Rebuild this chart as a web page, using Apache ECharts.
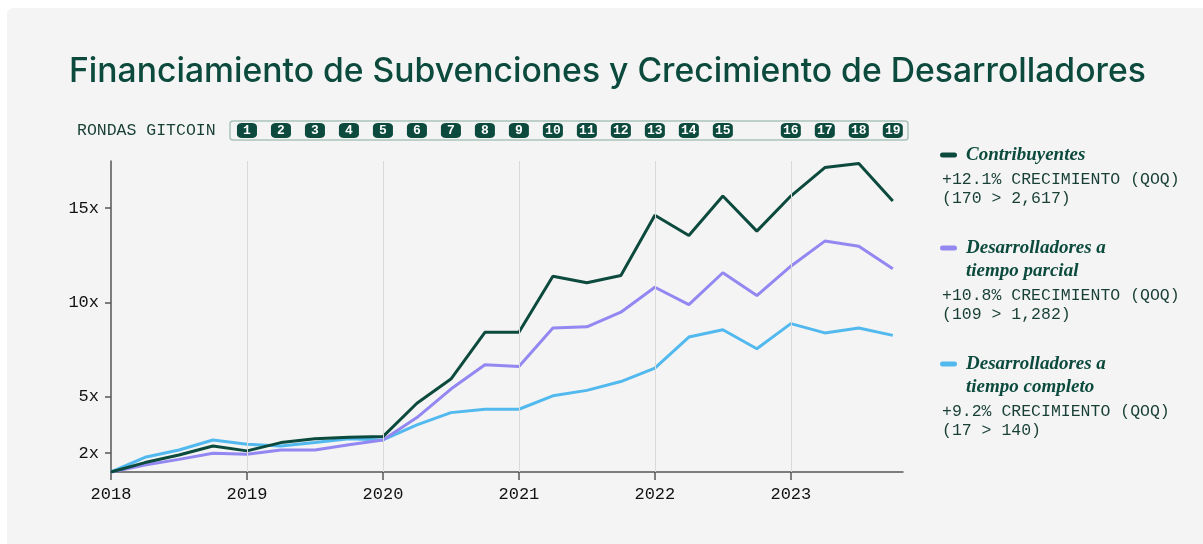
<!DOCTYPE html>
<html>
<head>
<meta charset="utf-8">
<script src="https://cdn.jsdelivr.net/npm/echarts@6/dist/echarts.min.js"></script>
<style>
  html, body { margin: 0; padding: 0; background: #fff; }
  #wrap { position: relative; width: 1203px; height: 544px; overflow: hidden; }
  #panel { position: absolute; left: 7px; top: 8px; width: 1220px; height: 560px; background: #f4f4f4; border-radius: 6px; }
  #chart { position: absolute; left: 0; top: 0; width: 1203px; height: 544px; }
</style>
</head>
<body>
<div id="wrap">
  <div id="panel"></div>
  <div id="chart"></div>
</div>
<script>
// trimestres desde 2018 T1 hasta 2023 T4 (indice 0..23)
const years = ["2018", "2019", "2020", "2021", "2022", "2023"];
const contribuyentes = [1.0, 1.5, 1.9, 2.38, 2.12, 2.56, 2.77, 2.84, 2.88, 4.65, 5.93, 8.41,
  8.41, 11.39, 11.04, 11.43, 14.62, 13.55, 15.64, 13.78, 15.64, 17.15, 17.37, 15.38];
const parcial = [1.0, 1.37, 1.67, 2.0, 1.94, 2.17, 2.17, 2.45, 2.7, 3.89, 5.4, 6.69,
  6.6, 8.64, 8.7, 9.48, 10.8, 9.88, 11.57, 10.36, 11.92, 13.25, 12.98, 11.78];
const completo = [1.0, 1.78, 2.17, 2.7, 2.47, 2.38, 2.56, 2.77, 2.7, 3.5, 4.15, 4.33,
  4.33, 5.04, 5.33, 5.8, 6.51, 8.16, 8.55, 7.54, 8.87, 8.38, 8.64, 8.25];
const yTicks = [2, 5, 10, 15];
const rondas = [1, 2, 3, 4, 5, 6, 7, 8, 9, 10, 11, 12, 13, 14, 15, 16, 17, 18, 19];
const rondaTrimestre = [4, 5, 6, 7, 8, 9, 10, 11, 12, 13, 14, 15, 16, 17, 18, 20, 21, 22, 23];

const legendNames = [["Contribuyentes"], ["Desarrolladores a", "tiempo parcial"], ["Desarrolladores a", "tiempo completo"]];
const legendGrowth = ["+12.1% CRECIMIENTO (QOQ)", "+10.8% CRECIMIENTO (QOQ)", "+9.2% CRECIMIENTO (QOQ)"];
const legendRange = ["(170 > 2,617)", "(109 > 1,282)", "(17 > 140)"];

const GREEN = "#0b4a3c";
const PURPLE = "#9387f2";
const BLUE = "#52b9ef";
const MONO = "'Liberation Mono', 'DejaVu Sans Mono', monospace";
const SERIF = "'Liberation Serif', 'DejaVu Serif', serif";

const yearTicks = years.map((y, i) => i * 4);
const toPoints = (arr) => arr.map((v, i) => [i, v]);

// leyenda a la derecha
const legendColors = [GREEN, PURPLE, BLUE];
const legendTop = [155, 248, 364];
const graphics = [];
legendNames.forEach((lines, k) => {
  let y = legendTop[k];
  graphics.push({
    type: "rect",
    shape: { x: 940, y: y - 2.5, width: 17, height: 5, r: 2.5 },
    style: { fill: legendColors[k] },
  });
  lines.forEach((t) => {
    graphics.push({
      type: "text",
      style: { text: t, x: 966, y: y, fill: GREEN, font: "italic bold 19px " + SERIF, verticalAlign: "middle" },
    });
    y += 23;
  });
  y += 1.5;
  graphics.push({
    type: "text",
    style: { text: legendGrowth[k], x: 942, y: y, fill: "#173f35", font: "16.5px " + MONO, verticalAlign: "middle" },
  });
  graphics.push({
    type: "text",
    style: { text: legendRange[k], x: 942, y: y + 19, fill: "#173f35", font: "16.5px " + MONO, verticalAlign: "middle" },
  });
});

// rondas gitcoin
graphics.push({
  type: "text",
  style: { text: "RONDAS GITCOIN", x: 77, y: 131, fill: "#173f35", font: "16.5px " + MONO, verticalAlign: "middle" },
});
graphics.push({
  type: "rect",
  shape: { x: 230, y: 121, width: 678, height: 19, r: 3 },
  style: { fill: "transparent", stroke: "#a9c2b9", lineWidth: 1.5 },
});

const chart = echarts.init(document.getElementById("chart"));
const option = {
  animation: false,
  title: {
    text: "Financiamiento de Subvenciones y Crecimiento de Desarrolladores",
    left: 64,
    top: 50,
    textStyle: { fontFamily: "Inter, 'Noto Sans', sans-serif", fontWeight: 500, fontSize: 33.7, color: GREEN },
  },
  graphic: graphics,
  grid: [
    { left: 111, right: 300, top: 161, bottom: 72 },
    { left: 111, right: 300, top: 121, height: 19 },
  ],
  xAxis: [
    {
      type: "value",
      gridIndex: 0,
      min: 0,
      max: 23.3,
      axisLine: { lineStyle: { color: "#555", width: 1.5 } },
      axisTick: { customValues: yearTicks, length: 8, lineStyle: { color: "#555", width: 1.5 } },
      axisLabel: {
        customValues: yearTicks,
        formatter: (v) => years[Math.round(v / 4)],
        margin: 14,
        color: "#111",
        fontFamily: MONO,
        fontSize: 17,
      },
      splitLine: { show: false },
    },
    { type: "value", gridIndex: 1, min: 0, max: 23.3, show: false },
  ],
  yAxis: [
    {
      type: "value",
      gridIndex: 0,
      min: 1,
      max: 17.5,
      axisLine: { show: true, lineStyle: { color: "#555", width: 1.5 } },
      axisTick: { show: true, customValues: yTicks, length: 6, lineStyle: { color: "#555", width: 1.5 } },
      axisLabel: {
        customValues: yTicks,
        formatter: (v) => v + "x",
        margin: 12,
        color: "#111",
        fontFamily: MONO,
        fontSize: 17,
      },
      splitLine: { show: false },
    },
    { type: "value", gridIndex: 1, min: -1, max: 1, show: false },
  ],
  series: [
    {
      type: "line",
      data: [],
      z: 1,
      markLine: {
        silent: true,
        symbol: ["none", "none"],
        label: { show: false },
        lineStyle: { color: "#d9d9d9", width: 1, type: "solid" },
        data: yearTicks.slice(1).map((x) => ({ xAxis: x })),
      },
    },
    {
      name: "Desarrolladores a tiempo completo",
      type: "line",
      data: toPoints(completo),
      showSymbol: false,
      lineStyle: { color: BLUE, width: 3 },
      itemStyle: { color: BLUE },
      z: 2,
    },
    {
      name: "Desarrolladores a tiempo parcial",
      type: "line",
      data: toPoints(parcial),
      showSymbol: false,
      lineStyle: { color: PURPLE, width: 3 },
      itemStyle: { color: PURPLE },
      z: 3,
    },
    {
      name: "Contribuyentes",
      type: "line",
      data: toPoints(contribuyentes),
      showSymbol: false,
      lineStyle: { color: GREEN, width: 3 },
      itemStyle: { color: GREEN },
      z: 4,
    },
    {
      name: "Rondas",
      type: "scatter",
      xAxisIndex: 1,
      yAxisIndex: 1,
      data: rondaTrimestre.map((q, i) => [q, 0, rondas[i]]),
      symbol: "roundRect",
      symbolSize: [20, 15],
      itemStyle: { color: GREEN, opacity: 1 },
      label: {
        show: true,
        position: "inside",
        formatter: (p) => p.data[2],
        color: "#fff",
        fontFamily: MONO,
        fontSize: 13,
        fontWeight: "bold",
      },
    },
  ],
};
chart.setOption(option);
</script>
</body>
</html>
